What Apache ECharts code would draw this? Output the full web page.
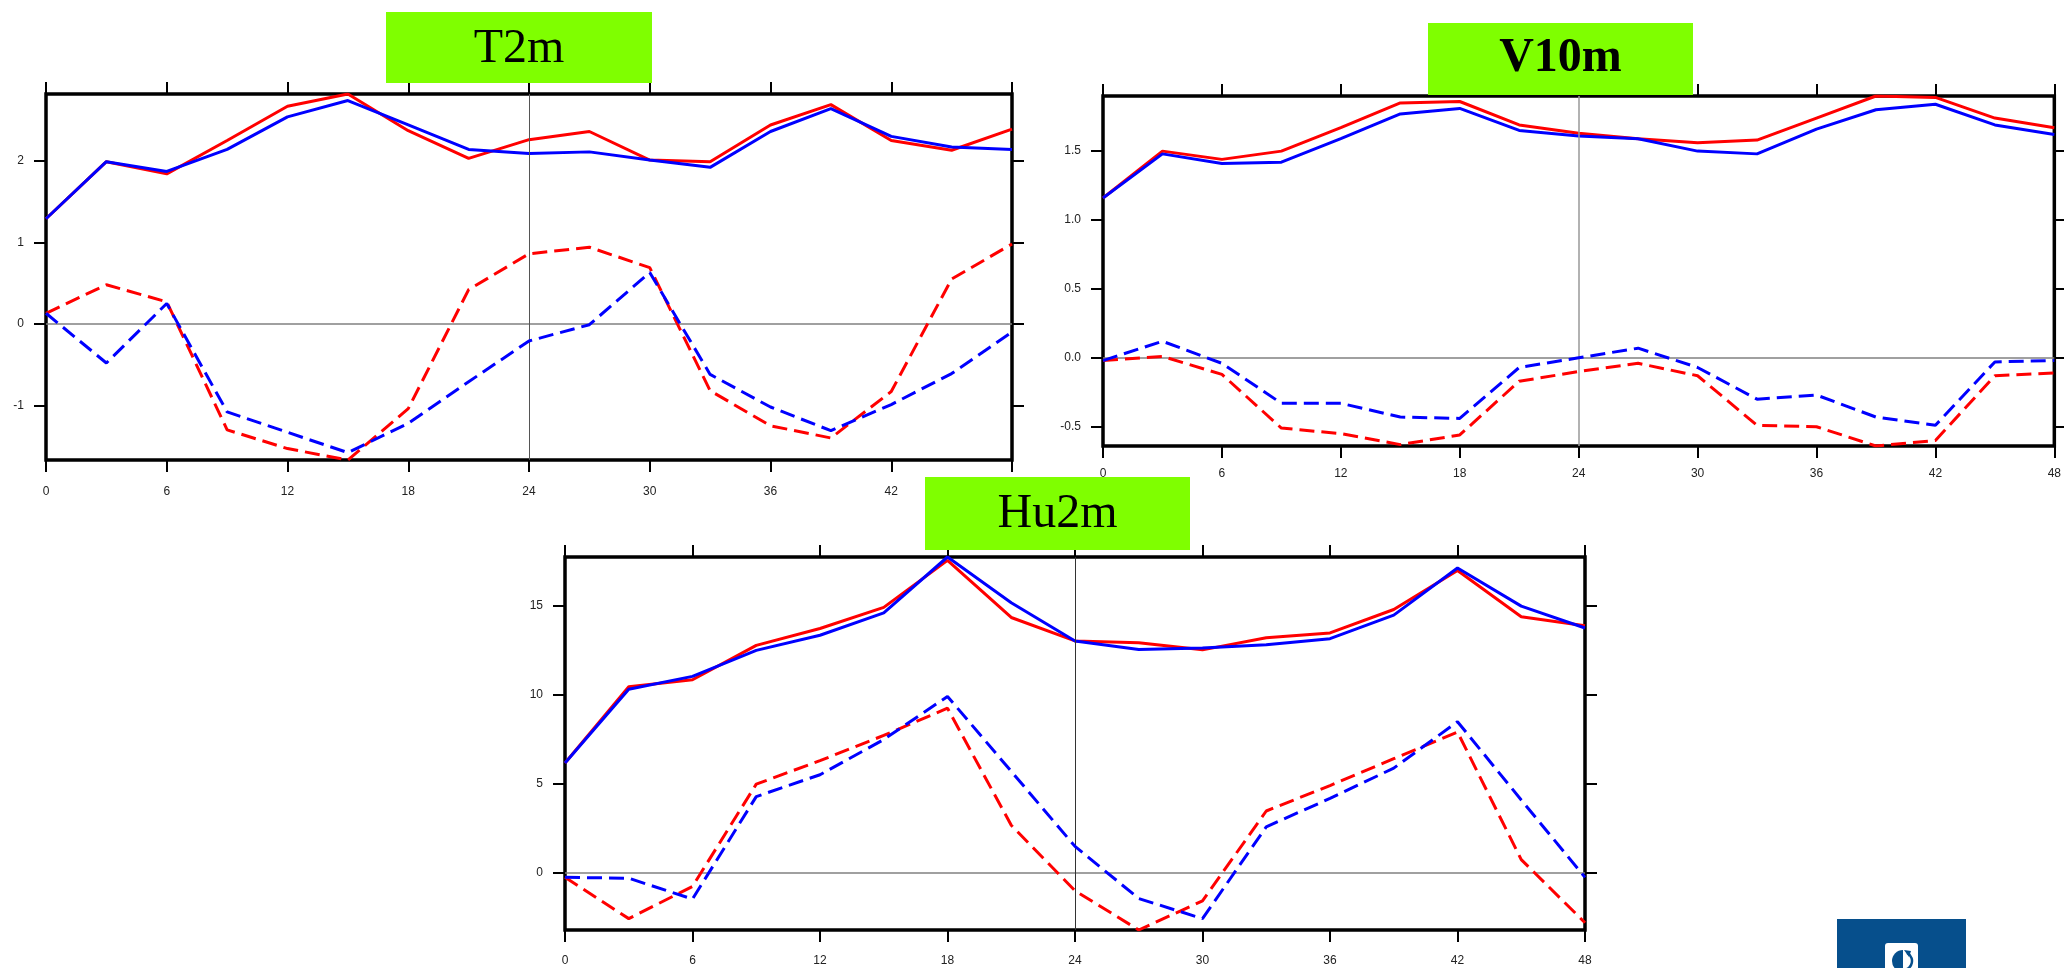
<!DOCTYPE html>
<html>
<head>
<meta charset="utf-8">
<script src="https://cdn.jsdelivr.net/npm/echarts@6/dist/echarts.min.js"></script>
<style>
  html, body { margin: 0; padding: 0; background: #ffffff; }
  #chart { width: 2064px; height: 968px; }
</style>
</head>
<body>
<div id="chart"></div>
<script>
// Forecast hours (every 3 h over two days)
const hours = [0, 3, 6, 9, 12, 15, 18, 21, 24, 27, 30, 33, 36, 39, 42, 45, 48];
const xTicks = [0, 6, 12, 18, 24, 30, 36, 42, 48];

// 2 m temperature
const t2mRedSolid  = [1.29, 1.99, 1.84, 2.25, 2.67, 2.82, 2.37, 2.03, 2.26, 2.36, 2.01, 1.99, 2.44, 2.69, 2.25, 2.13, 2.39];
const t2mBlueSolid = [1.29, 1.99, 1.87, 2.14, 2.54, 2.74, 2.44, 2.14, 2.09, 2.11, 2.01, 1.92, 2.36, 2.64, 2.30, 2.17, 2.14];
const t2mRedDash   = [0.13, 0.48, 0.27, -1.30, -1.53, -1.67, -1.04, 0.42, 0.86, 0.94, 0.69, -0.82, -1.25, -1.40, -0.83, 0.55, 0.98];
const t2mBlueDash  = [0.13, -0.48, 0.25, -1.08, -1.33, -1.58, -1.22, -0.71, -0.21, -0.01, 0.63, -0.62, -1.02, -1.31, -0.99, -0.61, -0.10];
const t2mYTicks = [-1, 0, 1, 2];

// 10 m wind
const v10RedSolid  = [1.16, 1.50, 1.44, 1.50, 1.67, 1.85, 1.86, 1.69, 1.63, 1.59, 1.56, 1.58, 1.74, 1.90, 1.89, 1.74, 1.67];
const v10BlueSolid = [1.16, 1.48, 1.41, 1.42, 1.59, 1.77, 1.81, 1.65, 1.61, 1.59, 1.50, 1.48, 1.66, 1.80, 1.84, 1.69, 1.62];
const v10RedDash   = [-0.02, 0.01, -0.12, -0.51, -0.55, -0.63, -0.56, -0.17, -0.10, -0.04, -0.13, -0.49, -0.50, -0.64, -0.60, -0.13, -0.11];
const v10BlueDash  = [-0.02, 0.12, -0.04, -0.33, -0.33, -0.43, -0.44, -0.07, 0.00, 0.07, -0.07, -0.30, -0.27, -0.43, -0.49, -0.03, -0.02];
const v10YTicks = [-0.5, 0, 0.5, 1, 1.5];

// 2 m humidity
const hu2RedSolid  = [6.18, 10.47, 10.86, 12.79, 13.74, 14.93, 17.57, 14.36, 13.04, 12.94, 12.54, 13.22, 13.49, 14.81, 17.00, 14.40, 13.89];
const hu2BlueSolid = [6.18, 10.33, 11.05, 12.51, 13.36, 14.62, 17.76, 15.19, 13.04, 12.56, 12.64, 12.83, 13.17, 14.49, 17.14, 15.00, 13.77];
const hu2RedDash   = [-0.25, -2.57, -0.76, 4.99, 6.31, 7.73, 9.26, 2.68, -1.00, -3.21, -1.57, 3.48, 4.91, 6.42, 7.92, 0.75, -2.80];
const hu2BlueDash  = [-0.25, -0.30, -1.47, 4.29, 5.52, 7.50, 9.92, 5.71, 1.49, -1.44, -2.57, 2.59, 4.19, 5.89, 8.50, 4.10, -0.25];
const hu2YTicks = [0, 5, 10, 15];

// Line styles, in drawing order: red solid, blue solid, red dashed, blue dashed
const lineStyles = [
  { color: '#ff0000', type: 'solid' },
  { color: '#0000ff', type: 'solid' },
  { color: '#ff0000', type: [15, 7] },
  { color: '#0000ff', type: [15, 7] }
];

const panels = [
  {
    title: 'T2m', bold: false,
    data: [t2mRedSolid, t2mBlueSolid, t2mRedDash, t2mBlueDash],
    yTicks: t2mYTicks, decimals: 0,
    grid: { left: 46, top: 94, width: 966, height: 366 },
    box: { x: 386, y: 12, w: 266, h: 71, ty: 49 },
    xLabelMargin: 26,
    midLine: { color: '#555555', width: 1 }
  },
  {
    title: 'V10m', bold: true,
    data: [v10RedSolid, v10BlueSolid, v10RedDash, v10BlueDash],
    yTicks: v10YTicks, decimals: 1,
    grid: { left: 1103, top: 96, width: 953, height: 350 },
    box: { x: 1428, y: 23, w: 265, h: 72, ty: 59 },
    xLabelMargin: 22,
    midLine: { color: '#999999', width: 1.5 }
  },
  {
    title: 'Hu2m', bold: false,
    data: [hu2RedSolid, hu2BlueSolid, hu2RedDash, hu2BlueDash],
    yTicks: hu2YTicks, decimals: 0,
    grid: { left: 565, top: 557, width: 1020, height: 373 },
    box: { x: 925, y: 477, w: 265, h: 73, ty: 514 },
    xLabelMargin: 25,
    midLine: { color: '#333333', width: 1 }
  }
];

const tickStyle = { show: true, inside: false, length: 12, lineStyle: { color: '#000', width: 2 } };
const labelFont = { fontFamily: '"Liberation Sans", Arial, sans-serif', fontSize: 12, color: '#222' };
const hiddenLine = { show: false, onZero: false };

const grids = [], xAxes = [], yAxes = [], series = [], graphics = [];

panels.forEach(function (p, i) {
  const all = [].concat.apply([], p.data);
  const yMin = Math.min.apply(null, all);
  const yMax = Math.max.apply(null, all);

  grids.push({
    left: p.grid.left, top: p.grid.top, width: p.grid.width, height: p.grid.height,
    show: true, borderColor: '#000', borderWidth: 3.5, backgroundColor: 'transparent',
    containLabel: false
  });

  const xBase = {
    type: 'value', gridIndex: i, min: 0, max: 48, interval: 6,
    axisLine: hiddenLine, splitLine: { show: false },
    axisTick: Object.assign({ customValues: xTicks }, tickStyle)
  };
  xAxes.push(Object.assign({}, xBase, {
    position: 'bottom',
    axisLabel: Object.assign({ show: true, margin: p.xLabelMargin, customValues: xTicks }, labelFont)
  }));
  xAxes.push(Object.assign({}, xBase, { position: 'top', axisLabel: { show: false } }));

  const yBase = {
    type: 'value', gridIndex: i, min: yMin, max: yMax, scale: true,
    axisLine: hiddenLine, splitLine: { show: false },
    axisTick: Object.assign({ customValues: p.yTicks }, tickStyle)
  };
  yAxes.push(Object.assign({}, yBase, {
    position: 'left',
    axisLabel: Object.assign({
      show: true, margin: 22, customValues: p.yTicks,
      formatter: function (v) { return p.decimals ? v.toFixed(p.decimals) : String(v); }
    }, labelFont)
  }));
  yAxes.push(Object.assign({}, yBase, { position: 'right', axisLabel: { show: false } }));

  // Reference lines: zero level and the 24 h mark
  series.push({
    type: 'line', xAxisIndex: 2 * i, yAxisIndex: 2 * i, data: [], silent: true,
    markLine: {
      silent: true, symbol: ['none', 'none'], label: { show: false }, animation: false,
      data: [
        { yAxis: 0, lineStyle: { color: '#808080', width: 1.5, type: 'solid' } },
        { xAxis: 24, lineStyle: { color: p.midLine.color, width: p.midLine.width, type: 'solid' } }
      ]
    }
  });

  p.data.forEach(function (vals, k) {
    series.push({
      type: 'line', xAxisIndex: 2 * i, yAxisIndex: 2 * i,
      data: hours.map(function (h, j) { return [h, vals[j]]; }),
      showSymbol: false, symbol: 'none', smooth: false, silent: true,
      lineStyle: { color: lineStyles[k].color, width: 3, type: lineStyles[k].type },
      itemStyle: { color: lineStyles[k].color },
      z: 3 + k
    });
  });

  // Title box
  graphics.push({
    type: 'rect', z: 100,
    shape: { x: p.box.x, y: p.box.y, width: p.box.w, height: p.box.h },
    style: { fill: '#7fff00' }
  });
  graphics.push({
    type: 'text', z: 101,
    x: p.box.x + p.box.w / 2, y: p.box.ty,
    style: {
      text: p.title, fill: '#000',
      fontFamily: '"Liberation Serif", "Times New Roman", serif',
      fontSize: 48, fontWeight: p.bold ? 'bold' : 'normal',
      align: 'center', verticalAlign: 'middle'
    }
  });
});

// Emblem in the lower right corner
graphics.push({ type: 'rect', z: 100, shape: { x: 1837, y: 919, width: 129, height: 60 }, style: { fill: '#064f8c' } });
graphics.push({ type: 'rect', z: 101, shape: { x: 1885, y: 943, width: 33, height: 40, r: 3 }, style: { fill: '#ffffff' } });
graphics.push({ type: 'sector', z: 102, shape: { cx: 1903, cy: 961, r0: 0, r: 11, startAngle: Math.PI / 2, endAngle: Math.PI * 1.5 }, style: { fill: '#064f8c' } });
graphics.push({ type: 'arc', z: 102, shape: { cx: 1903, cy: 961, r: 9, startAngle: -Math.PI * 0.35, endAngle: Math.PI * 0.45 }, style: { stroke: '#064f8c', lineWidth: 2.5, fill: null } });
graphics.push({ type: 'polygon', z: 102, shape: { points: [[1904, 950], [1911, 951], [1909, 957]] }, style: { fill: '#064f8c' } });

const chart = echarts.init(document.getElementById('chart'), null, { renderer: 'canvas' });
chart.setOption({
  animation: false,
  backgroundColor: '#ffffff',
  textStyle: { fontFamily: '"Liberation Sans", Arial, sans-serif' },
  grid: grids,
  xAxis: xAxes,
  yAxis: yAxes,
  series: series,
  graphic: graphics
});
</script>
</body>
</html>
